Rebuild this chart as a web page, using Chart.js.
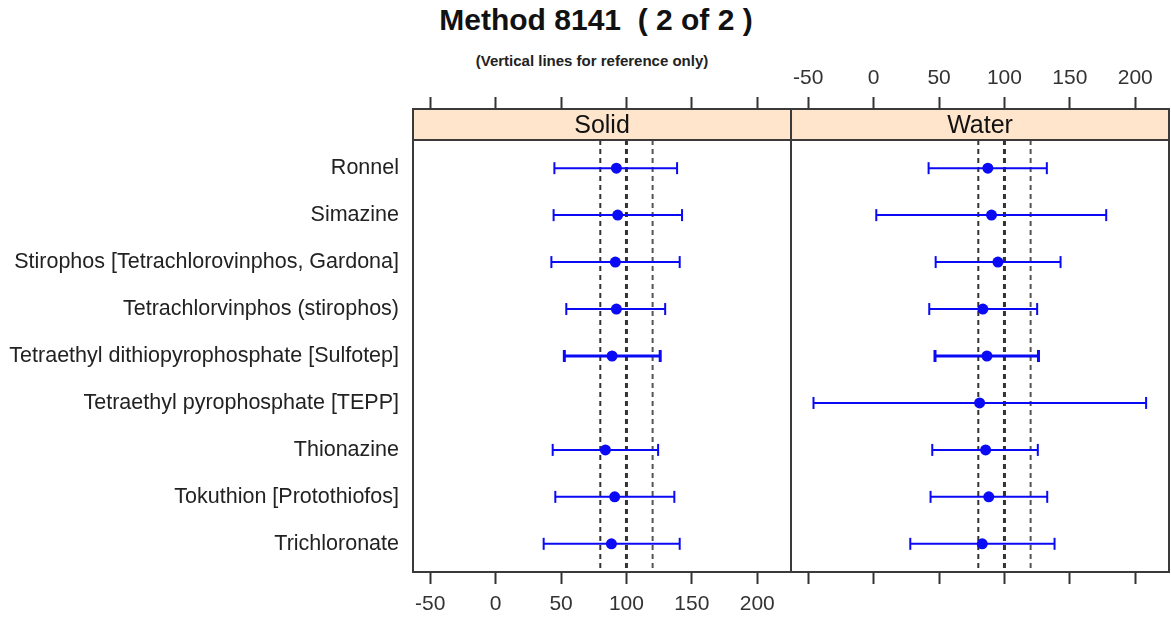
<!DOCTYPE html>
<html>
<head>
<meta charset="utf-8">
<title>Method 8141 (2 of 2)</title>
<script src="https://cdn.jsdelivr.net/npm/chart.js@4.4.1/dist/chart.umd.min.js"></script>
<style>
  body { margin: 0; background: #fff; width: 1171px; height: 621px; position: relative; overflow: hidden;
         font-family: "Liberation Sans", Arial, Helvetica, sans-serif; }
  canvas { position: absolute; top: 0; }
  #solid { left: 0; }
  #water { left: 790px; }
  .head { position: absolute; white-space: pre; color: #111; transform: translateX(-50%); }
  #main { left: 596px; top: 5px; font-size: 30px; line-height: 30px; font-weight: bold; }
  #sub { left: 592px; top: 53px; font-size: 15px; line-height: 15px; font-weight: bold; color: #222; }
</style>
</head>
<body>
<div id="main" class="head">Method 8141  ( 2 of 2 )</div>
<div id="sub" class="head">(Vertical lines for reference only)</div>
<canvas id="solid" width="792" height="621"></canvas>
<canvas id="water" width="381" height="621"></canvas>
<script>
// compounds, top to bottom
var compounds = [
  'Ronnel',
  'Simazine',
  'Stirophos [Tetrachlorovinphos, Gardona]',
  'Tetrachlorvinphos (stirophos)',
  'Tetraethyl dithiopyrophosphate [Sulfotep]',
  'Tetraethyl pyrophosphate [TEPP]',
  'Thionazine',
  'Tokuthion [Protothiofos]',
  'Trichloronate'
];

// % recovery: mean with lower / upper limits
var solidMean = [92.3, 93.3, 91.5, 92.3, 89.0, null, 83.9, 91.0, 88.5];
var solidLow  = [44.9, 44.3, 42.6, 54.0, 52.5, null, 43.6, 45.6, 36.7];
var solidHigh = [138.7, 142.5, 140.7, 129.6, 125.8, null, 124.2, 136.6, 140.7];

var waterMean = [87.3, 90.1, 95.0, 83.5, 86.6, 81.0, 85.6, 88.0, 83.0];
var waterLow  = [42.0, 2.0, 47.4, 42.5, 46.9, -46.0, 44.8, 43.5, 28.0];
var waterHigh = [132.4, 177.8, 142.9, 125.0, 126.0, 208.3, 125.5, 132.7, 138.3];

var refLines = [80, 100, 120];
var xTicks = [-50, 0, 50, 100, 150, 200];
var heavyRows = ['Tetraethyl dithiopyrophosphate [Sulfotep]'];

Chart.defaults.font.family = '"Liberation Sans", Arial, Helvetica, sans-serif';

var BLUE = '#0a0af5';
var FRAME = '#3a3a3a';
var X_MIN = -63.2, X_MAX = 225.8;
var Y_MIN = -0.26, Y_MAX = 9.6;   // room above row 1 is the strip

function xAxis(position, showLabels, fitHeight) {
  return {
    type: 'linear',
    position: position,
    min: X_MIN,
    max: X_MAX,
    afterBuildTicks: function(scale) {
      scale.ticks = xTicks.map(function(v) { return { value: v }; });
    },
    afterFit: function(scale) {
      scale.height = fitHeight;
      scale.paddingLeft = 0;
      scale.paddingRight = 0;
    },
    border: { display: false },
    grid: { display: true, drawOnChartArea: false, drawTicks: true, tickLength: 12,
            tickWidth: 2, tickColor: '#333' },
    ticks: { display: showLabels, color: '#333', font: { size: 21 },
             padding: position === 'top' ? 6 : 8,
             maxRotation: 0, autoSkip: false }
  };
}

function buildPanel(canvasId, stripName, mean, low, high, side) {
  var datasets = [];

  // mean markers
  var dots = [];
  compounds.forEach(function(c, i) {
    if (mean[i] != null) dots.push({ x: mean[i], y: i + 1 });
  });
  datasets.push({
    type: 'scatter', data: dots, order: 1,
    pointRadius: 5.5, pointBackgroundColor: BLUE, pointBorderWidth: 0, pointHoverRadius: 5.5
  });

  // interval bars with end caps
  compounds.forEach(function(c, i) {
    if (mean[i] == null) return;
    var w = heavyRows.indexOf(c) >= 0 ? 3 : 2;
    datasets.push({
      type: 'line', order: 2,
      data: [{ x: low[i], y: i + 1 }, { x: high[i], y: i + 1 }],
      borderColor: BLUE, borderWidth: w,
      pointStyle: 'line', rotation: 90, pointRadius: 6, pointHoverRadius: 6,
      pointBorderColor: BLUE, pointBorderWidth: w
    });
  });

  // dashed reference lines
  refLines.forEach(function(v) {
    datasets.push({
      type: 'line', order: 3,
      data: [{ x: v, y: 0.4 }, { x: v, y: Y_MAX }],
      borderColor: v === 120 ? '#555' : '#333',
      borderWidth: v === 100 ? 3 : 2,
      borderDash: [5, 4],
      pointRadius: 0
    });
  });

  var framePlugin = {
    id: 'frame',
    beforeDatasetsDraw: function(chart) {
      var a = chart.chartArea, ctx = chart.ctx;
      var stripBottom = chart.scales.y.getPixelForValue(0.4);
      ctx.save();
      ctx.fillStyle = '#FFE5CC';
      ctx.fillRect(a.left, a.top, a.right - a.left, stripBottom - a.top);
      ctx.restore();
    },
    afterDraw: function(chart) {
      var a = chart.chartArea, ctx = chart.ctx;
      var stripBottom = chart.scales.y.getPixelForValue(0.4);
      ctx.save();
      ctx.strokeStyle = FRAME;
      ctx.lineWidth = 2;
      ctx.strokeRect(a.left, a.top, a.right - a.left, a.bottom - a.top);
      ctx.beginPath();
      ctx.moveTo(a.left, stripBottom);
      ctx.lineTo(a.right, stripBottom);
      ctx.stroke();
      ctx.fillStyle = '#111';
      ctx.font = '25px "Liberation Sans", Arial, sans-serif';
      ctx.textAlign = 'center';
      ctx.textBaseline = 'middle';
      ctx.fillText(stripName, (a.left + a.right) / 2, (a.top + stripBottom) / 2 + 2);
      ctx.restore();
    }
  };

  var yAxis = {
    type: 'linear',
    reverse: true,
    min: Y_MIN,
    max: Y_MAX,
    display: side === 'left',
    afterBuildTicks: function(scale) {
      scale.ticks = compounds.map(function(c, i) { return { value: i + 1 }; });
    },
    afterFit: function(scale) { scale.width = side === 'left' ? 413 : 0; },
    border: { display: false },
    grid: { display: false, drawTicks: false },
    ticks: {
      padding: 14, color: '#222', font: { size: 21.5 }, autoSkip: false,
      callback: function(v) { return compounds[v - 1]; }
    }
  };

  return new Chart(document.getElementById(canvasId), {
    type: 'line',
    data: { datasets: datasets },
    options: {
      responsive: false,
      animation: false,
      layout: {
        autoPadding: false,
        padding: side === 'left' ? { left: 0, right: 1, top: 0, bottom: 0 }
                                 : { left: 1, right: 2, top: 0, bottom: 0 }
      },
      plugins: { legend: { display: false }, tooltip: { enabled: false } },
      scales: {
        x: xAxis('bottom', side === 'left', 49),
        x2: xAxis('top', side !== 'left', 109),
        y: yAxis
      }
    },
    plugins: [framePlugin]
  });
}

buildPanel('solid', 'Solid', solidMean, solidLow, solidHigh, 'left');
buildPanel('water', 'Water', waterMean, waterLow, waterHigh, 'right');
</script>
</body>
</html>
